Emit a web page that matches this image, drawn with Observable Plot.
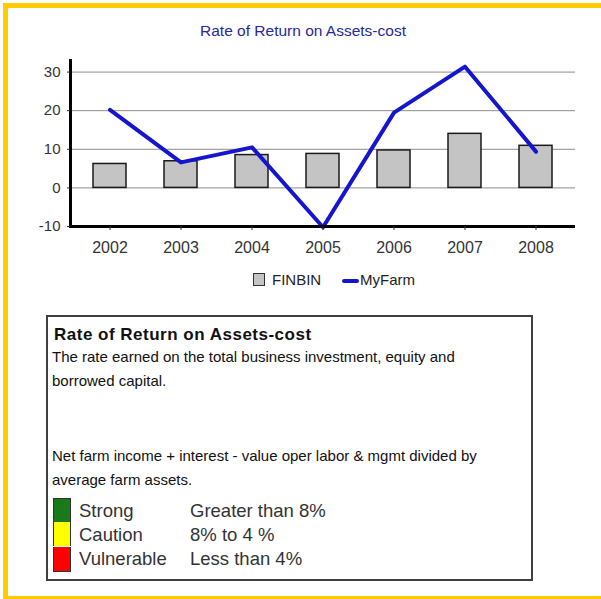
<!DOCTYPE html>
<html><head><meta charset="utf-8">
<script src="https://cdn.jsdelivr.net/npm/d3@7"></script>
<script src="https://cdn.jsdelivr.net/npm/@observablehq/plot@0.6"></script>
<style>
body{margin:0;background:#fff;font-family:"Liberation Sans",Arial,sans-serif;width:601px;height:599px;overflow:hidden;position:relative;}
#frame{position:absolute;left:3px;top:3px;width:700px;height:598px;box-sizing:border-box;border:5px solid #FFCC00;}
#chart{position:absolute;left:0;top:0;}
.abs{position:absolute;white-space:nowrap;line-height:1;}
#title{left:303px;top:23px;transform:translateX(-50%);font-size:15.5px;color:#28289a;}
.legsw{position:absolute;box-sizing:border-box;}
#box{position:absolute;left:46px;top:315px;width:487px;height:266px;box-sizing:border-box;border:2px solid #404040;}
.body{font-size:15px;color:#111;}
.lab{font-size:18.5px;color:#333;}
</style></head><body>
<div id="frame"></div>
<div id="chart"></div>
<div id="title" class="abs"></div>
<div id="legend"></div>
<div id="box"></div>
<div id="boxtext"></div>
<script>
const chartTitle = "Rate of Return on Assets-cost";
const years = ["2002", "2003", "2004", "2005", "2006", "2007", "2008"];
const finbin = [6.2, 6.9, 8.5, 8.8, 9.7, 14.0, 10.9];
const myFarm = [20.2, 6.6, 10.5, -10.2, 19.5, 31.4, 9.4];
const yTicks = [-10, 0, 10, 20, 30];
const gridValues = [0, 10, 20, 30];
const seriesNames = ["FINBIN", "MyFarm"];
const boxTitle = "Rate of Return on Assets-cost";
const descLines = ["The rate earned on the total business investment, equity and", "borrowed capital."];
const formulaLines = ["Net farm income + interest - value oper labor & mgmt divided by", "average farm assets."];
const ratingNames = ["Strong", "Caution", "Vulnerable"];
const ratingRanges = ["Greater than 8%", "8% to 4 %", "Less than 4%"];
const ratingColors = ["#1a7a1a", "#ffff00", "#ff0000"];

const rows = years.map((year, i) => ({year, finbin: finbin[i], myFarm: myFarm[i]}));
const barColor = "#c4c4c4";
const lineColor = "#1515d0";

const chart = Plot.plot({
  width: 601, height: 300,
  marginLeft: 70, marginRight: 26, marginTop: 60, marginBottom: 74,
  style: {background: "transparent", fontFamily: "'Liberation Sans', Arial, sans-serif", overflow: "visible"},
  x: {type: "band", domain: years, paddingInner: 0.54, paddingOuter: 0.3},
  y: {domain: [-10, 33]},
  marks: [
    Plot.ruleY(gridValues, {stroke: "#8c8c8c", strokeWidth: 1}),
    Plot.barY(rows, {x: "year", y: "finbin", fill: barColor, stroke: "#1a1a1a", strokeWidth: 1.5}),
    Plot.lineY(rows, {x: "year", y: "myFarm", stroke: lineColor, strokeWidth: 4, strokeLinejoin: "round"}),
    Plot.ruleY([-10], {stroke: "#000", strokeWidth: 3}),
    Plot.frame({anchor: "left", stroke: "#000", strokeWidth: 3}),
    Plot.axisY({ticks: yTicks, tickFormat: d => String(d), tickSize: 3, tickPadding: 7, fontSize: 15, color: "#333", label: null}),
    Plot.axisX({tickSize: 4, tickPadding: 11, fontSize: 16, color: "#333", label: null})
  ]
});
document.getElementById("chart").appendChild(chart);
document.getElementById("title").textContent = chartTitle;

// legend
const leg = document.getElementById("legend");
leg.innerHTML = `
<div class="legsw" style="left:253px;top:273px;width:12px;height:13px;background:${barColor};border:1px solid #333;"></div>
<div class="abs" style="left:272px;top:272px;font-size:15px;color:#222;">${seriesNames[0]}</div>
<div class="legsw" style="left:342px;top:279px;width:17px;height:4px;background:${lineColor};border-radius:2px;"></div>
<div class="abs" style="left:360px;top:272px;font-size:15px;color:#222;">${seriesNames[1]}</div>`;

// info box
const bt = document.getElementById("boxtext");
let html = `<div class="abs" style="left:54px;top:326px;font-size:17px;font-weight:bold;letter-spacing:0.5px;color:#111;">${boxTitle}</div>`;
const bodyTops = [349, 373, 448, 472];
[...descLines, ...formulaLines].forEach((t, i) => {
  html += `<div class="abs body" style="left:52px;top:${bodyTops[i]}px;">${t.replace(/&/g, "&amp;")}</div>`;
});
const swTops = [498, 522, 547];
const labTops = [502, 526, 550];
ratingNames.forEach((n, i) => {
  html += `<div class="legsw" style="left:53px;top:${swTops[i]}px;width:18px;height:${i === 2 ? 25 : 24}px;background:${ratingColors[i]};border-left:1px solid #333;border-right:1px solid #333;${i===0?'border-top:1px solid #333;':''}${i===2?'border-bottom:1px solid #333;':''}"></div>`;
  html += `<div class="abs lab" style="left:79px;top:${labTops[i]}px;">${n}</div>`;
  html += `<div class="abs lab" style="left:190px;top:${labTops[i]}px;">${ratingRanges[i]}</div>`;
});
bt.innerHTML = html;
</script>
</body></html>
